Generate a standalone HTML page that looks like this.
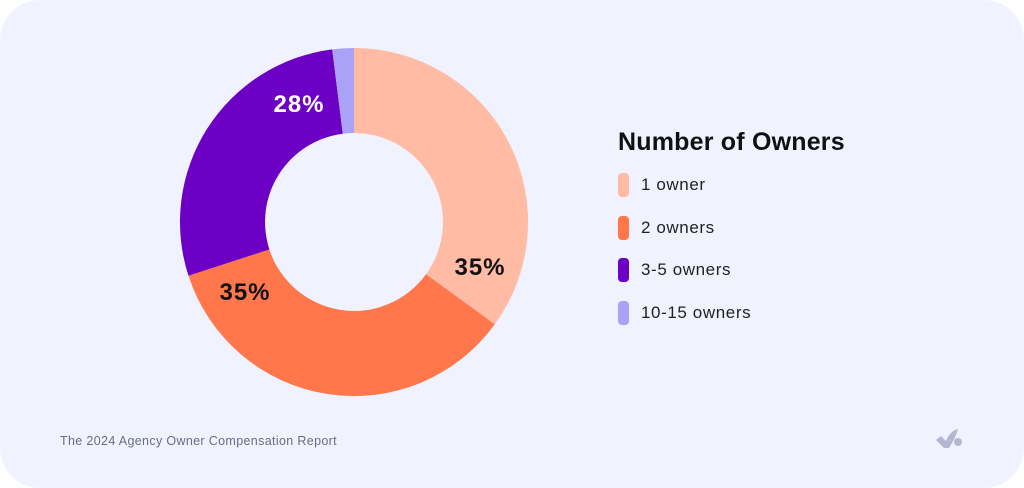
<!DOCTYPE html>
<html><head><meta charset="utf-8"><style>
html,body{margin:0;padding:0;background:#fff;}
.card{position:absolute;left:0;top:0;width:1024px;height:488px;background:#F0F3FF;border-radius:40px;overflow:hidden;font-family:"Liberation Sans",sans-serif;}
.t{position:absolute;left:618px;top:128px;font-size:25px;font-weight:bold;color:#111;letter-spacing:0.2px;}
.li{position:absolute;left:618px;height:24px;}
.sw{position:absolute;left:0;top:0;width:11px;height:24px;border-radius:4px;}
.lt{position:absolute;left:23px;top:2px;font-size:17px;color:#222;white-space:nowrap;letter-spacing:0.6px;}
.f{position:absolute;left:60px;top:434px;font-size:12.5px;color:#6a6d80;letter-spacing:0.35px;}
</style></head><body>
<div class="card">
<svg width="1024" height="488" style="position:absolute;left:0;top:0">
<path d="M354,48 A174,174 0 0 1 494.8,324.3 L426,274.3 A89,89 0 0 0 354,133 Z" fill="#FFBBA3"/>
<path d="M494.8,324.3 A174,174 0 0 1 188.5,275.8 L269.4,249.5 A89,89 0 0 0 426,274.3 Z" fill="#FF774A"/>
<path d="M188.5,275.8 A174,174 0 0 1 332.2,49.4 L342.8,133.7 A89,89 0 0 0 269.4,249.5 Z" fill="#6C00C4"/>
<path d="M332.2,49.4 A174,174 0 0 1 354,48 L354,133 A89,89 0 0 0 342.8,133.7 Z" fill="#A9A2F7"/>
<g font-family="Liberation Sans,sans-serif" font-weight="bold" font-size="24" text-anchor="middle" letter-spacing="1">
<text x="480" y="275" fill="#111">35%</text>
<text x="245" y="300" fill="#111">35%</text>
<text x="299" y="112" fill="#fff">28%</text>
</g>
<g fill="#b4b6d2">
<path d="M936,440 L941,436 L946,441 Q950,431 958,429 Q955,439 949,448 L944,448 Z"/>
<circle cx="958" cy="442" r="4"/>
</g>
</svg>
<div class="t">Number of Owners</div>
<div class="li" style="top:173px"><div class="sw" style="background:#FFBBA3"></div><div class="lt">1 owner</div></div>
<div class="li" style="top:216px"><div class="sw" style="background:#FF774A"></div><div class="lt">2 owners</div></div>
<div class="li" style="top:258px"><div class="sw" style="background:#6C00C4"></div><div class="lt">3-5 owners</div></div>
<div class="li" style="top:301px"><div class="sw" style="background:#A9A2F7"></div><div class="lt">10-15 owners</div></div>
<div class="f">The 2024 Agency Owner Compensation Report</div>
</div>
</body></html>
